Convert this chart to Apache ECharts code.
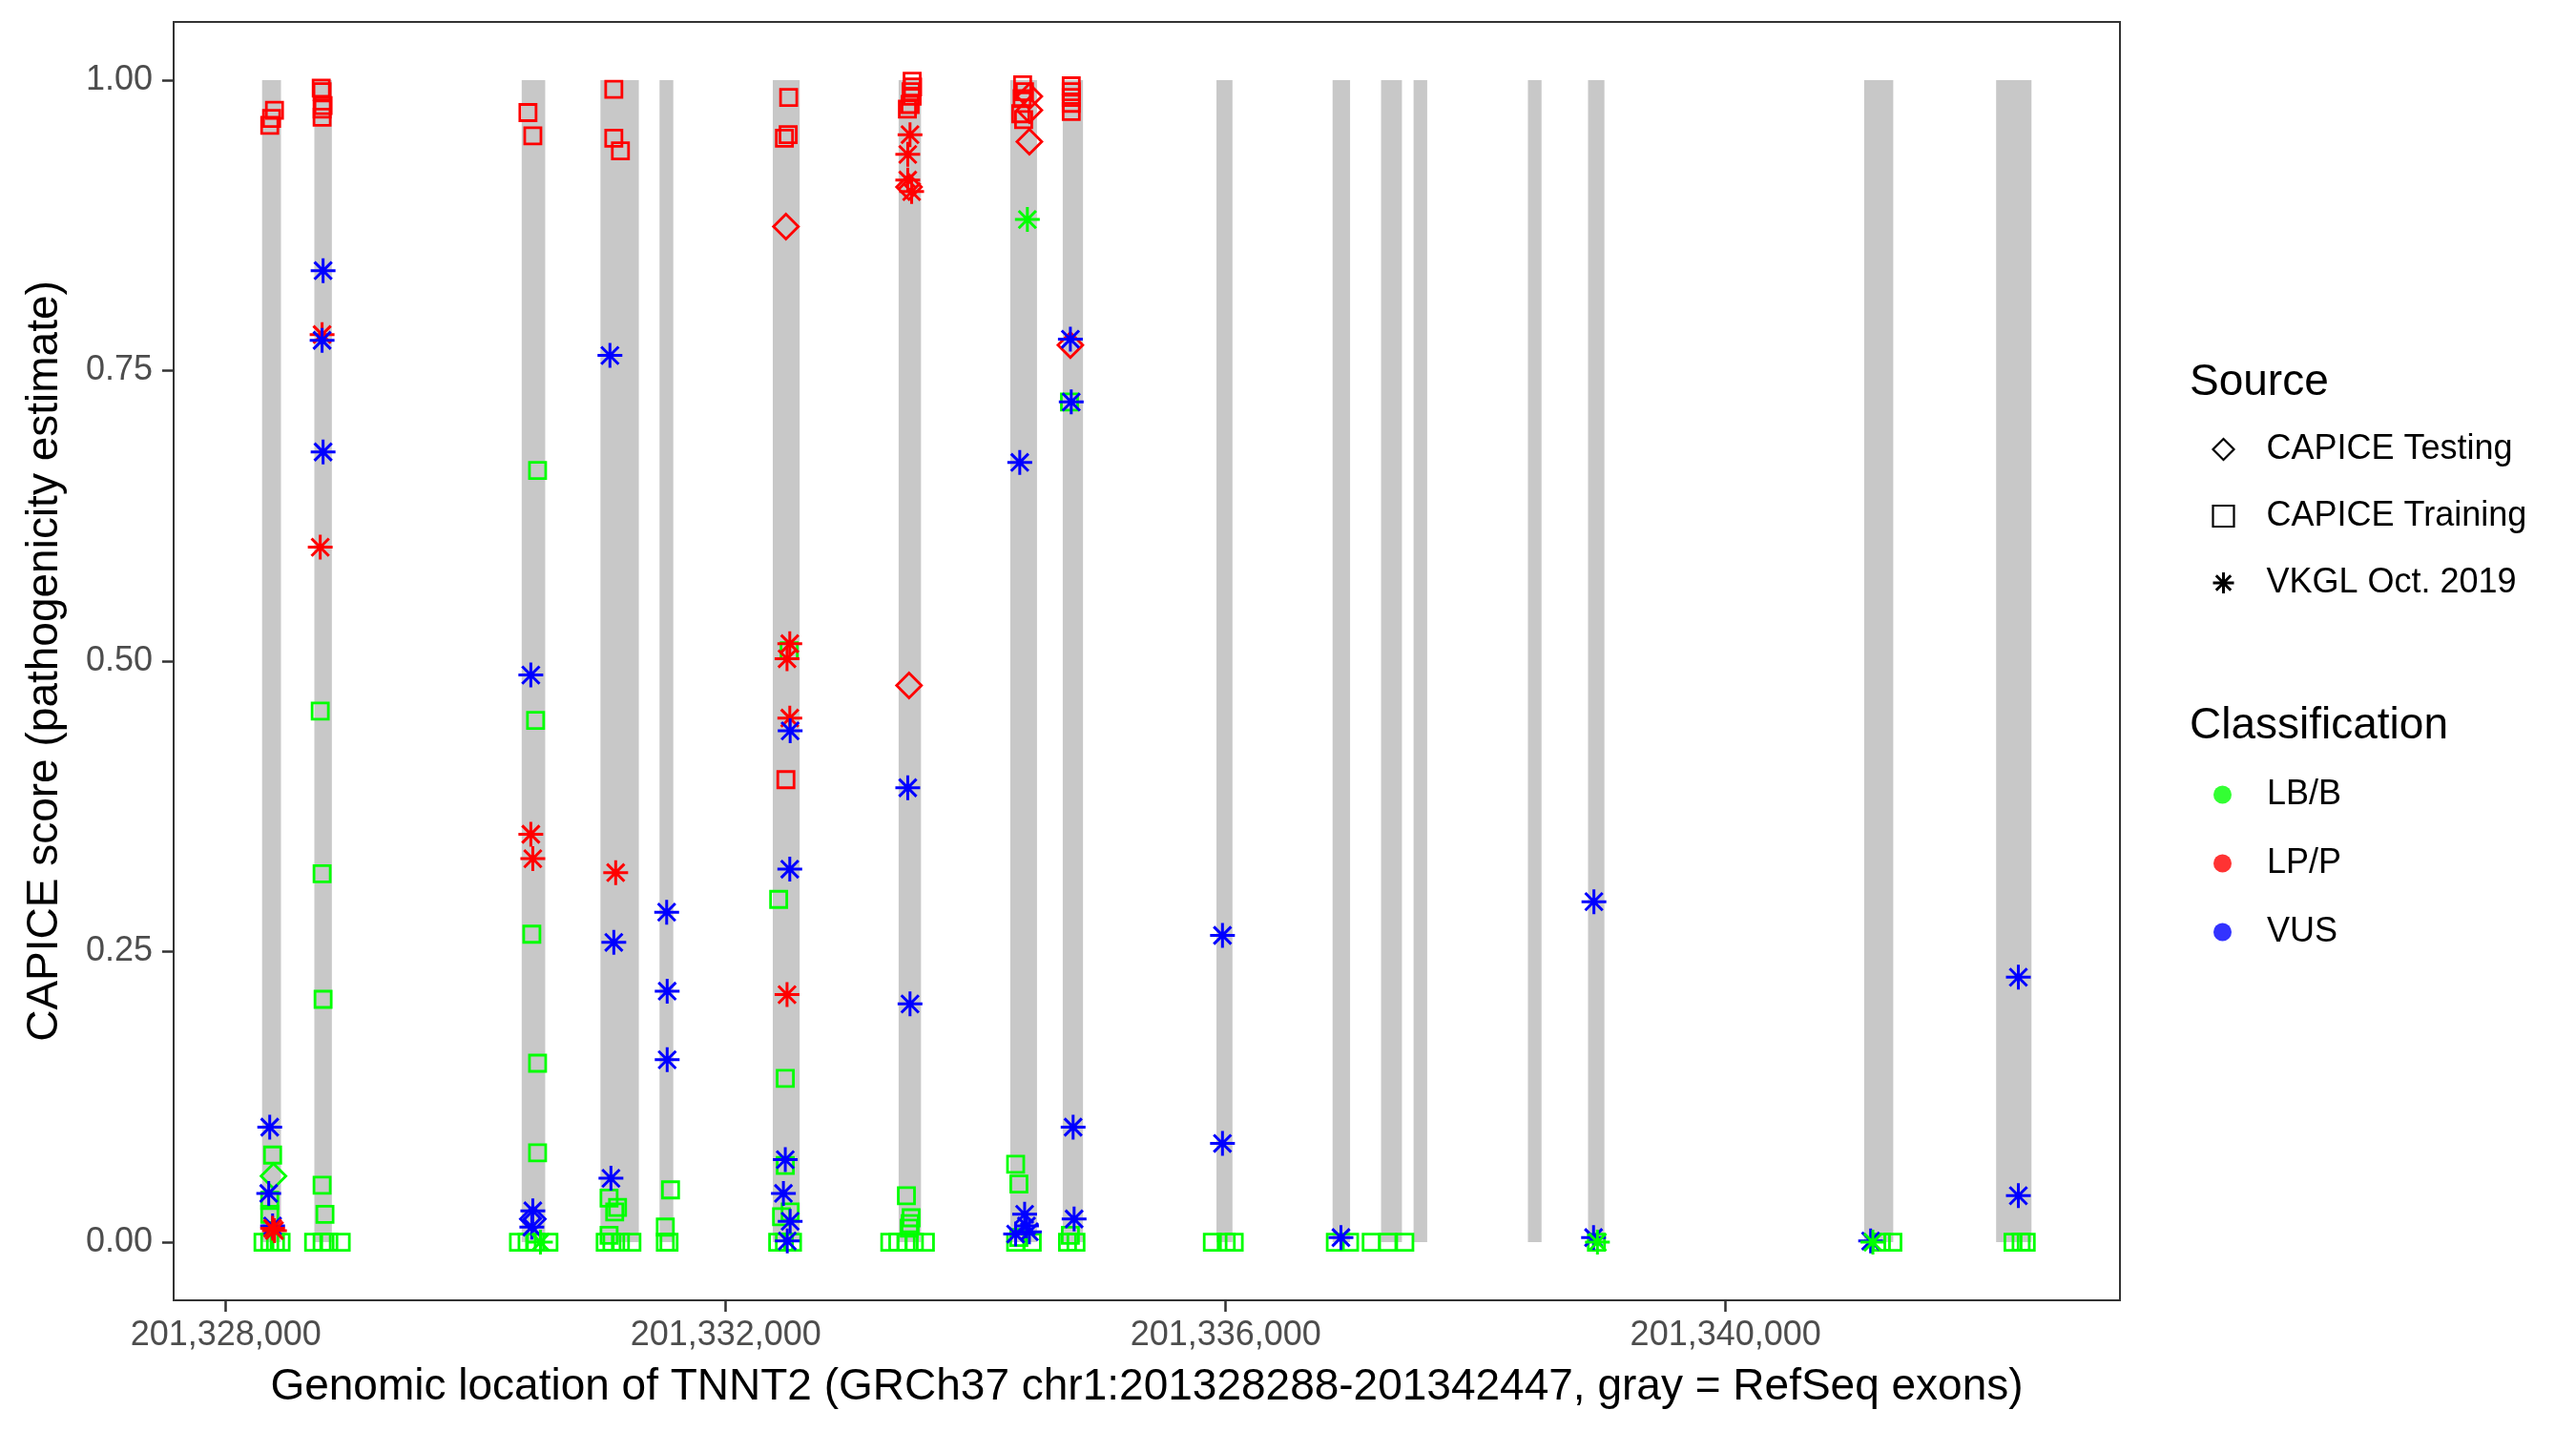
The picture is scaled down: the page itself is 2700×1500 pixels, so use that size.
<!DOCTYPE html>
<html>
<head>
<meta charset="utf-8">
<script src="https://cdn.jsdelivr.net/npm/echarts@6/dist/echarts.min.js"></script>
<style>
html,body{margin:0;padding:0;background:#fff;}
#chart{width:2700px;height:1500px;}
</style>
</head>
<body>
<div id="chart"></div>
<script>
// ---- Exons (RefSeq, gray bands) ----
const exonStart = [201328290, 201328708, 201330367, 201330997, 201331470, 201332376, 201333383, 201334276, 201334696, 201335926, 201336855, 201337243, 201337503, 201338418, 201338899, 201341108, 201342164];
const exonEnd   = [201328441, 201328848, 201330555, 201331304, 201331580, 201332591, 201333562, 201334490, 201334858, 201336054, 201336995, 201337410, 201337612, 201338527, 201339030, 201341341, 201342447];

// ---- CAPICE Testing (diamonds) ----
const testPos   = [201328381, 201330456, 201332481, 201333466, 201333466, 201334429, 201334429, 201334429, 201334757];
const testScore = [0.057, 0.020, 0.874, 0.908, 0.479, 0.986, 0.974, 0.947, 0.772];
const testClass = ['LB/B', 'VUS', 'LP/P', 'LP/P', 'LP/P', 'LP/P', 'LP/P', 'LP/P', 'LP/P'];

// ---- CAPICE Training (squares) ----
const trainPos = [
  201328351, 201328366, 201328389, 201328374, 201328351, 201328351, 201328297, 201328351, 201328397, 201328442,
  201328763, 201328770, 201328778, 201328770, 201328770, 201328755, 201328770, 201328778, 201328770, 201328793, 201328702, 201328770, 201328824, 201328923,
  201330417, 201330456, 201330494, 201330478, 201330448, 201330494, 201330494, 201330341, 201330410, 201330478, 201330585,
  201331104, 201331104, 201331157, 201331066, 201331134, 201331111, 201331066, 201331035, 201331089, 201331157, 201331249,
  201331558, 201331516, 201331516, 201331546,
  201332503, 201332499, 201332469, 201332481, 201332507, 201332423, 201332476, 201332476, 201332515, 201332446, 201332415, 201332469, 201332534,
  201333491, 201333495, 201333483, 201333491, 201333475, 201333453, 201333445, 201333483, 201333475, 201333468, 201333312, 201333376, 201333443, 201333509, 201333597,
  201334375, 201334390, 201334371, 201334360, 201334383, 201334319, 201334345, 201334319, 201334345, 201334452,
  201334764, 201334764, 201334764, 201334764, 201334764, 201334750, 201334757, 201334734, 201334802,
  201335893, 201336004, 201336068,
  201336877, 201336991,
  201337164, 201337296, 201337433,
  201338966,
  201341246, 201341338,
  201342299, 201342364, 201342405
];
const trainScore = [
  0.961, 0.967, 0.974, 0.075, 0.036, 0.024, 0, 0, 0, 0,
  0.993, 0.990, 0.978, 0.975, 0.968, 0.457, 0.317, 0.209, 0.049, 0.024, 0, 0, 0, 0,
  0.972, 0.952, 0.664, 0.449, 0.265, 0.154, 0.077, 0, 0, 0, 0,
  0.992, 0.950, 0.939, 0.038, 0.030, 0.026, 0.006, 0, 0, 0, 0,
  0.045, 0.013, 0, 0,
  0.985, 0.953, 0.950, 0.398, 0.509, 0.295, 0.141, 0.066, 0.026, 0.022, 0, 0, 0,
  0.999, 0.994, 0.990, 0.986, 0.979, 0.975, 0.040, 0.021, 0.016, 0.012, 0, 0, 0, 0, 0,
  0.996, 0.990, 0.984, 0.971, 0.966, 0.067, 0.050, 0, 0.004, 0,
  0.995, 0.990, 0.985, 0.980, 0.973, 0.723, 0.006, 0, 0,
  0, 0, 0,
  0, 0,
  0, 0, 0,
  0,
  0, 0,
  0, 0, 0
];
const trainClass = [
  'LP/P', 'LP/P', 'LP/P', 'LB/B', 'LB/B', 'LB/B', 'LB/B', 'LB/B', 'LB/B', 'LB/B',
  'LP/P', 'LP/P', 'LP/P', 'LP/P', 'LP/P', 'LB/B', 'LB/B', 'LB/B', 'LB/B', 'LB/B', 'LB/B', 'LB/B', 'LB/B', 'LB/B',
  'LP/P', 'LP/P', 'LB/B', 'LB/B', 'LB/B', 'LB/B', 'LB/B', 'LB/B', 'LB/B', 'LB/B', 'LB/B',
  'LP/P', 'LP/P', 'LP/P', 'LB/B', 'LB/B', 'LB/B', 'LB/B', 'LB/B', 'LB/B', 'LB/B', 'LB/B',
  'LB/B', 'LB/B', 'LB/B', 'LB/B',
  'LP/P', 'LP/P', 'LP/P', 'LP/P', 'LB/B', 'LB/B', 'LB/B', 'LB/B', 'LB/B', 'LB/B', 'LB/B', 'LB/B', 'LB/B',
  'LP/P', 'LP/P', 'LP/P', 'LP/P', 'LP/P', 'LP/P', 'LB/B', 'LB/B', 'LB/B', 'LB/B', 'LB/B', 'LB/B', 'LB/B', 'LB/B', 'LB/B',
  'LP/P', 'LP/P', 'LP/P', 'LP/P', 'LP/P', 'LB/B', 'LB/B', 'LB/B', 'LB/B', 'LB/B',
  'LP/P', 'LP/P', 'LP/P', 'LP/P', 'LP/P', 'LB/B', 'LB/B', 'LB/B', 'LB/B',
  'LB/B', 'LB/B', 'LB/B',
  'LB/B', 'LB/B',
  'LB/B', 'LB/B', 'LB/B',
  'LB/B',
  'LB/B', 'LB/B',
  'LB/B', 'LB/B', 'LB/B'
];

// ---- VKGL Oct. 2019 (asterisks) ----
const vkglPos = [
  201328351, 201328343, 201328374, 201328374, 201328389,
  201328778, 201328770, 201328770, 201328778, 201328755,
  201330440, 201330440, 201330456, 201330456, 201330448, 201330517,
  201331073, 201331119, 201331104, 201331081,
  201331527, 201331531, 201331531,
  201332512, 201332490, 201332512, 201332515, 201332512, 201332490, 201332476, 201332461, 201332515, 201332492,
  201333474, 201333456, 201333456, 201333487, 201333456, 201333474,
  201334413, 201334352, 201334391, 201334319, 201334429, 201334406,
  201334757, 201334764, 201334779, 201334787,
  201335974, 201335974,
  201336922,
  201338946, 201338943, 201338974,
  201341160, 201341178,
  201342342, 201342342
];
const vkglScore = [
  0.099, 0.042, 0.014, 0.012, 0.010,
  0.836, 0.781, 0.776, 0.680, 0.598,
  0.488, 0.351, 0.330, 0.027, 0.013, 0,
  0.763, 0.318, 0.258, 0.055,
  0.284, 0.216, 0.157,
  0.515, 0.502, 0.451, 0.440, 0.321, 0.213, 0.071, 0.042, 0.018, 0.001,
  0.953, 0.936, 0.914, 0.904, 0.391, 0.205,
  0.880, 0.671, 0.024, 0.007, 0.009, 0.014,
  0.777, 0.723, 0.099, 0.020,
  0.264, 0.085,
  0.004,
  0.293, 0.004, 0,
  0.001, 0,
  0.228, 0.040
];
const vkglClass = [
  'VUS', 'VUS', 'VUS', 'LP/P', 'LP/P',
  'VUS', 'LP/P', 'VUS', 'VUS', 'LP/P',
  'VUS', 'LP/P', 'LP/P', 'VUS', 'VUS', 'LB/B',
  'VUS', 'LP/P', 'VUS', 'VUS',
  'VUS', 'VUS', 'VUS',
  'LP/P', 'LP/P', 'LP/P', 'VUS', 'VUS', 'LP/P', 'VUS', 'VUS', 'VUS', 'VUS',
  'LP/P', 'LP/P', 'LP/P', 'LP/P', 'VUS', 'VUS',
  'LB/B', 'VUS', 'VUS', 'VUS', 'VUS', 'VUS',
  'VUS', 'VUS', 'VUS', 'VUS',
  'VUS', 'VUS',
  'VUS',
  'VUS', 'VUS', 'LB/B',
  'VUS', 'LB/B',
  'VUS', 'VUS'
];

// ---- axes / legend labels ----
const xTicks = [201328000, 201332000, 201336000, 201340000];
const yTicks = [0, 0.25, 0.5, 0.75, 1.0];
const sourceNames = ['CAPICE Testing', 'CAPICE Training', 'VKGL Oct. 2019'];
const classNames = ['LB/B', 'LP/P', 'VUS'];
const classColors = {'LB/B': '#00FF00', 'LP/P': '#FF0000', 'VUS': '#0000FF'};

const FONT = '"Liberation Sans", Arial, Helvetica, sans-serif';
const ASTERISK = 'path://M12,0L12,24M0,12L24,12M3.6,3.6L20.4,20.4M3.6,20.4L20.4,3.6';
const CLEAR = 'rgba(0,0,0,0)';

function pts(pos, score, cls) {
  return pos.map((p, i) => ({
    value: [p, score[i]],
    itemStyle: {borderColor: classColors[cls[i]]}
  }));
}
function commas(v) {
  return String(Math.round(v)).replace(/\B(?=(\d{3})+(?!\d))/g, ',');
}

const xMin = 201328290 - 0.05 * (201342447 - 201328290);
const xMax = 201342447 + 0.05 * (201342447 - 201328290);

const legendText = {fontFamily: FONT, fontSize: 36, color: '#000', lineHeight: 40, padding: [0, 0, 0, 29]};

const chart = echarts.init(document.getElementById('chart'), null, {renderer: 'canvas'});
chart.setOption({
  backgroundColor: '#fff',
  animation: false,
  textStyle: {fontFamily: FONT},
  title: [
    {text: 'Source', left: 2290, top: 373, textStyle: {fontFamily: FONT, fontSize: 46, fontWeight: 'normal', color: '#000'}},
    {text: 'Classification', left: 2290, top: 733, textStyle: {fontFamily: FONT, fontSize: 46, fontWeight: 'normal', color: '#000'}}
  ],
  legend: [
    {
      orient: 'vertical', left: 2313, top: 446, itemWidth: 22, itemHeight: 22, itemGap: 30,
      textStyle: legendText,
      data: [
        {name: sourceNames[0], itemStyle: {color: CLEAR, borderColor: '#000', borderWidth: 2.2}},
        {name: sourceNames[1], icon: 'path://M0,0L16,0L16,16L0,16Z', itemStyle: {color: CLEAR, borderColor: '#000', borderWidth: 2.2}},
        {name: sourceNames[2], itemStyle: {color: CLEAR, borderColor: '#000', borderWidth: 3}}
      ],
      selectedMode: false
    },
    {
      orient: 'vertical', left: 2315, top: 808, itemWidth: 19, itemHeight: 19, itemGap: 32,
      textStyle: Object.assign({}, legendText, {padding: [0, 0, 0, 32]}),
      data: classNames.map(n => ({name: n, icon: 'circle', itemStyle: {color: classColors[n], borderWidth: 0}})),
      selectedMode: false
    }
  ],
  grid: {
    left: 182, right: 478, top: 23, bottom: 137,
    show: true, borderColor: '#333333', borderWidth: 2, backgroundColor: '#fff',
    containLabel: false, outerBoundsMode: 'none'
  },
  xAxis: {
    type: 'value', min: xMin, max: xMax, position: 'bottom',
    name: 'Genomic location of TNNT2 (GRCh37 chr1:201328288-201342447, gray = RefSeq exons)',
    nameLocation: 'middle', nameGap: 68,
    nameTextStyle: {fontFamily: FONT, fontSize: 46, color: '#000'},
    axisLine: {show: false, onZero: false},
    splitLine: {show: false},
    axisTick: {show: true, length: 12, lineStyle: {color: '#333333', width: 2.5}, customValues: xTicks},
    axisLabel: {show: true, margin: 19, fontFamily: FONT, fontSize: 36, color: '#4D4D4D', customValues: xTicks, formatter: v => commas(v)}
  },
  yAxis: {
    type: 'value', min: -0.05, max: 1.05, position: 'left',
    name: 'CAPICE score (pathogenicity estimate)',
    nameLocation: 'middle', nameGap: 112, nameRotate: 90,
    nameTextStyle: {fontFamily: FONT, fontSize: 46, color: '#000'},
    axisLine: {show: false, onZero: false},
    splitLine: {show: false},
    axisTick: {show: true, length: 12, lineStyle: {color: '#333333', width: 2.5}, customValues: yTicks},
    axisLabel: {show: true, margin: 22, fontFamily: FONT, fontSize: 36, color: '#4D4D4D', customValues: yTicks, formatter: v => v.toFixed(2)}
  },
  series: [
    {
      name: 'exons', type: 'custom', silent: true, z: 1,
      encode: {x: [0, 1]},
      data: exonStart.map((s, i) => [s, exonEnd[i]]),
      renderItem: function (params, api) {
        const p0 = api.coord([api.value(0), 1]);
        const p1 = api.coord([api.value(1), 0]);
        return {type: 'rect', shape: {x: p0[0], y: p0[1], width: p1[0] - p0[0], height: p1[1] - p0[1]}, style: {fill: '#C8C8C8'}};
      }
    },
    {
      name: sourceNames[1], type: 'scatter', z: 3, symbol: 'rect', symbolSize: 17,
      itemStyle: {color: CLEAR, borderColor: '#000', borderWidth: 2.8, opacity: 1},
      emphasis: {disabled: true},
      data: pts(trainPos, trainScore, trainClass)
    },
    {
      name: sourceNames[0], type: 'scatter', z: 4, symbol: 'diamond', symbolSize: [26, 26],
      itemStyle: {color: CLEAR, borderColor: '#000', borderWidth: 2.8, opacity: 1},
      emphasis: {disabled: true},
      data: pts(testPos, testScore, testClass)
    },
    {
      name: sourceNames[2], type: 'scatter', z: 5, symbol: ASTERISK, symbolSize: 26,
      itemStyle: {color: CLEAR, borderColor: '#000', borderWidth: 3, opacity: 1},
      emphasis: {disabled: true},
      data: pts(vkglPos, vkglScore, vkglClass)
    },
    ...classNames.map(n => ({name: n, type: 'scatter', symbol: 'circle', itemStyle: {color: classColors[n]}, data: []}))
  ]
});
</script>
</body>
</html>
